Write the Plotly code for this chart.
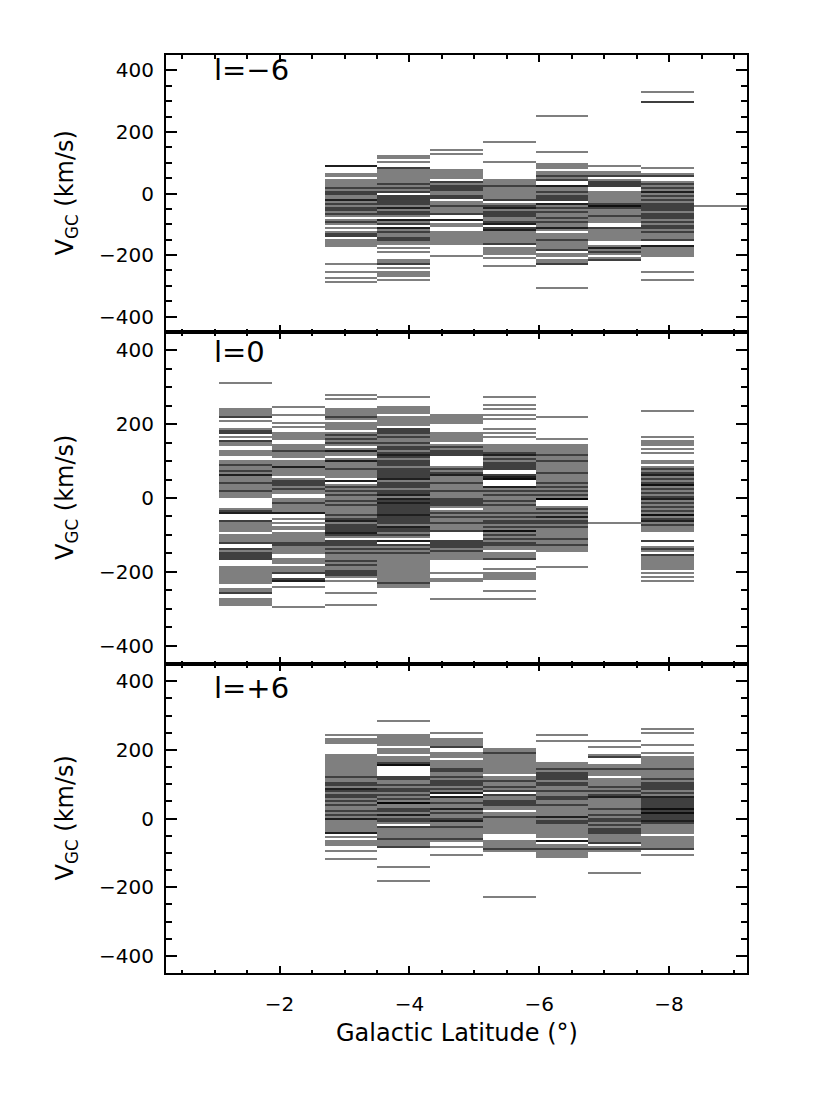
import math
import plotly.graph_objects as go

FONT = "DejaVu Sans"

# Centres of the latitude columns (deg), column 1..10
LAT_CENTERS = [-1.476, -2.289, -3.101, -3.914, -4.726, -5.539, -6.351, -7.164, -7.976, -8.789]
COL_WIDTH_DEG = 0.8125

X_TICKS = [-2, -4, -6, -8]
Y_TICKS = [-400, -200, 0, 200, 400]

# ---------------- l = -6 panel (velocities, km/s) ----------------
LM6_C3 = [87, 87, 88, 62, 54, 43, 35, 30, 24, 18, 12, 6, 0, -6, -12, -18, -24, -30, -36, -42, -48, -54, -60, -66, -71,
          20, 8, -3, -20, -33, -45, -52, -64, -86, -92, -92, -99, -111, -123, -129, -129, -135, -141, -152, -158,
          -164, -168, -230, -253, -274, -285]
LM6_C4 = [125, 114, 103, 82, 80, 76, 70, 66, 60, 52, 44, 35, 33, 29, 23, 20, 17, 11, 8, 5, -6, -9, -12, -15, -18, -24,
          -27, -30, -33, -36, -42, -45, -45, -48, -54, -60, -62, -65, -66, -71, -83, -86, -89, -95, -97, -100, -111,
          -111, -111, -118, -123, -124, -130, -136, -142, -145, -148, -154, -160, -166, -179, -187, -214, -220, -226,
          -230, -245, -252, -259, -266, -279]
LM6_C5 = [143, 130, 76, 70, 64, 58, 52, 38, 35, 32, 26, 22, 20, 16, 11, 10, 5, -1, -7, -10, -13, -16, -30, -36, -40,
          -43, -49, -55, -61, -67, -69, -83, -88, -89, -97, -108, -128, -134, -139, -145, -151, -157, -161, -205]
LM6_C6 = [168, 100, 43, 37, 31, 25, 22, 16, 10, 4, -2, -8, -14, -20, -22, -33, -38, -40, -44, -49, -49, -54, -60, -60,
          -65, -66, -72, -75, -78, -84, -90, -90, -96, -100, -102, -109, -115, -120, -120, -120, -125, -131, -137,
          -143, -149, -155, -161, -167, -174, -185, -191, -196, -207, -236]
LM6_C7 = [255, 136, 96, 90, 85, 71, 65, 59, 56, 53, 47, 43, 22, 22, 22, 16, 10, 5, 4, -2, -5, -8, -14, -15, -20, -22,
          -33, -33, -33, -43, -49, -50, -55, -61, -62, -67, -73, -79, -80, -85, -91, -95, -97, -103, -109, -110, -115,
          -120, -130, -136, -142, -148, -154, -160, -166, -172, -178, -185, -185, -196, -202, -215, -221, -227, -230,
          -304]
LM6_C8 = [87, 71, 65, 59, 54, 43, 37, 35, 31, 28, 25, 22, 5, -1, -7, -13, -19, -25, -31, -33, -38, -38, -38, -43, -49,
          -50, -55, -61, -67, -70, -73, -79, -85, -92, -109, -115, -121, -127, -133, -139, -145, -152, -168, -174,
          -175, -180, -186, -190, -192, -196, -207, -213, -217]
LM6_C9 = [329, 296, 296, 82, 65, 59, 54, 38, 32, 30, 26, 20, 18, 14, 8, 5, 2, -4, -8, -10, -16, -20, -22, -28, -32,
          -34, -38, -40, -44, -46, -52, -55, -58, -64, -67, -70, -76, -79, -82, -88, -90, -94, -100, -103, -106, -112,
          -115, -118, -124, -125, -130, -136, -142, -148, -152, -168, -170, -172, -174, -185, -191, -197, -201, -253,
          -279]
LM6_C10 = [-43]

# ---------------- l = 0 panel ----------------
L0_C1 = [314, 242, 237, 232, 227, 222, 219, 210, 187, 182, 182, 177, 174, 167, 157, 152, 147, 144, 128, 123, 119, 100,
         94, 90, 88, 85, 80, 75, 72, 70, 65, 62, 60, 58, 49, 44, 40, 39, 34, 29, 24, 20, 19, 14, 9, 4, -28, -33, -33,
         -38, -40, -42, -60, -65, -70, -75, -80, -85, -87, -100, -105, -110, -115, -120, -123, -137, -140, -142, -147,
         -150, -152, -157, -160, -162, -165, -168, -186, -195, -200, -205, -210, -214, -221, -226, -232, -245, -250,
         -255, -259, -272, -279, -284, -288]
L0_C2 = [248, 225, 203, 194, 176, 171, 166, 162, 141, 136, 131, 130, 126, 121, 116, 112, 99, 94, 90, 83, 83, 83, 76,
         71, 66, 62, 53, 48, 45, 43, 38, 35, 33, 28, 25, 23, 18, 13, -1, -6, -11, -16, -21, -26, -31, -37, -42, -42,
         -42, -55, -69, -80, -85, -96, -101, -106, -110, -116, -120, -121, -126, -130, -131, -137, -143, -150, -166,
         -172, -177, -186, -191, -196, -201, -204, -218, -220, -223, -225, -227, -241, -293]
L0_C3 = [281, 266, 242, 237, 232, 227, 222, 217, 212, 201, 196, 191, 185, 174, 170, 169, 164, 160, 159, 154, 150, 149,
         144, 135, 130, 130, 125, 122, 119, 108, 103, 100, 98, 93, 88, 83, 81, 76, 71, 66, 61, 58, 44, 44, 44, 35, 30,
         30, 25, 20, 20, 15, 10, 10, 4, -5, -10, -10, -15, -20, -20, -25, -30, -33, -40, -45, -45, -50, -55, -55, -60,
         -65, -65, -70, -75, -75, -80, -80, -85, -85, -90, -90, -95, -95, -95, -100, -100, -105, -114, -119, -120,
         -124, -129, -130, -134, -139, -140, -144, -149, -150, -154, -159, -166, -170, -171, -176, -180, -181, -186,
         -191, -196, -200, -201, -206, -210, -211, -216, -223, -257, -290]
L0_C4 = [275, 248, 239, 234, 228, 221, 212, 207, 202, 198, 189, 185, 184, 179, 176, 174, 169, 166, 164, 159, 154, 150,
         149, 144, 140, 139, 134, 131, 129, 124, 121, 119, 115, 114, 110, 109, 104, 100, 99, 95, 94, 90, 89, 84, 80,
         79, 75, 74, 70, 69, 64, 60, 59, 55, 54, 50, 49, 44, 42, 39, 35, 34, 31, 29, 24, 21, 19, 15, 14, 10, 10, 9, 4,
         0, -1, -5, -6, -10, -11, -15, -16, -20, -21, -25, -26, -28, -31, -35, -36, -38, -41, -45, -46, -48, -50, -51,
         -56, -58, -61, -65, -66, -68, -71, -76, -78, -81, -85, -86, -88, -91, -96, -98, -101, -105, -118, -118, -118,
         -128, -130, -133, -138, -140, -143, -148, -150, -153, -159, -168, -173, -178, -183, -188, -193, -198, -203,
         -208, -214, -218, -223, -228, -233, -238, -241]
L0_C5 = [223, 218, 213, 208, 204, 176, 171, 166, 161, 157, 144, 140, 139, 134, 130, 129, 124, 120, 119, 117, 85, 80,
         80, 75, 70, 70, 65, 62, 60, 58, 49, 44, 40, 39, 34, 29, 24, 20, 19, 14, 9, 4, 0, -1, -6, -10, -11, -16, -20,
         -21, -24, -33, -38, -43, -48, -50, -53, -58, -63, -68, -70, -73, -78, -83, -88, -91, -114, -119, -120, -124,
         -129, -130, -134, -135, -139, -141, -146, -151, -156, -161, -164, -205, -218, -227, -275]
L0_C6 = [275, 252, 243, 225, 212, 187, 176, 165, 144, 139, 134, 129, 124, 121, 117, 117, 115, 112, 107, 105, 102, 97,
         95, 92, 87, 85, 82, 80, 76, 62, 62, 58, 57, 57, 52, 52, 49, 49, 31, 31, 31, 22, 20, 17, 12, 10, 7, 4, -5, -10,
         -10, -15, -20, -20, -25, -28, -37, -40, -42, -47, -50, -52, -57, -60, -62, -67, -70, -72, -77, -80, -82, -87,
         -91, -91, -91, -96, -100, -101, -106, -110, -111, -116, -120, -121, -126, -130, -131, -137, -150, -155, -160,
         -165, -168, -191, -205, -210, -215, -221, -254, -274]
L0_C7 = [221, 162, 144, 139, 134, 129, 124, 119, 114, 109, 104, 100, 99, 94, 89, 84, 79, 74, 70, 69, 64, 58, 49, 44,
         40, 39, 34, 30, 29, 24, 20, 19, 14, 10, 9, 4, 0, -1, -5, -5, -5, -24, -29, -30, -34, -39, -40, -44, -49, -50,
         -54, -59, -60, -64, -69, -70, -74, -79, -80, -84, -87, -96, -101, -106, -110, -111, -116, -121, -126, -130,
         -131, -136, -141, -188]
L0_C8 = [-66]
L0_C9 = [234, 168, 157, 151, 144, 135, 121, 101, 94, 85, 80, 80, 75, 70, 70, 65, 60, 60, 55, 50, 50, 45, 40, 40, 35,
         33, 33, 33, 30, 25, 25, 20, 15, 15, 10, 5, 5, 0, -5, -5, -10, -15, -15, -20, -25, -25, -30, -35, -35, -40,
         -44, -44, -45, -45, -50, -55, -55, -60, -65, -65, -70, -75, -75, -80, -85, -87, -114, -114, -132, -137, -137,
         -141, -152, -156, -159, -168, -173, -178, -183, -188, -195, -206, -215, -227]

# ---------------- l = +6 panel ----------------
L6_C3 = [242, 230, 225, 218, 186, 177, 172, 166, 161, 155, 150, 144, 139, 133, 128, 122, 120, 117, 111, 106, 105, 100,
         95, 89, 84, 84, 84, 80, 78, 73, 70, 67, 62, 60, 56, 51, 50, 45, 40, 40, 34, 29, 23, 20, 18, 12, 10, 7, 1, 0,
         -4, -10, -15, -21, -26, -32, -37, -44, -44, -44, -56, -66, -71, -76, -93, -120]
L6_C4 = [282, 242, 237, 232, 227, 222, 216, 204, 198, 191, 182, 172, 167, 162, 160, 157, 154, 154, 154, 123, 118, 115,
         113, 108, 103, 100, 98, 93, 88, 85, 83, 78, 73, 70, 68, 63, 58, 55, 53, 48, 45, 43, 43, 43, 38, 33, 30, 28,
         23, 20, 18, 13, 10, 8, 3, 0, -2, -7, -10, -13, -22, -27, -32, -37, -42, -47, -52, -57, -62, -67, -72, -77,
         -82, -85, -141, -181]
L6_C5 = [248, 230, 225, 220, 215, 210, 206, 191, 186, 182, 167, 162, 157, 152, 147, 142, 140, 137, 132, 127, 122, 120,
         117, 112, 107, 105, 102, 97, 95, 92, 87, 85, 82, 77, 75, 72, 65, 65, 65, 55, 50, 45, 45, 40, 35, 30, 30, 25,
         20, 15, 15, 10, 5, 0, 0, -5, -10, -10, -13, -17, -22, -27, -32, -37, -42, -47, -52, -57, -62, -66, -81, -108]
L6_C6 = [203, 198, 193, 188, 183, 178, 173, 168, 163, 157, 148, 143, 138, 133, 123, 113, 110, 108, 103, 98, 93, 90, 88,
         83, 78, 70, 68, 63, 58, 53, 50, 48, 43, 40, 38, 33, 26, 17, 12, 7, 2, -3, -8, -13, -17, -27, -32, -37, -42,
         -66, -71, -76, -81, -86, -91, -95, -228]
L6_C7 = [242, 228, 162, 157, 152, 147, 143, 138, 135, 133, 128, 125, 123, 118, 115, 113, 108, 105, 103, 98, 95, 94, 84,
         80, 79, 74, 69, 64, 60, 59, 54, 49, 44, 40, 39, 36, 26, 21, 16, 12, 7, 5, 2, -3, -5, -8, -13, -15, -18, -22,
         -32, -37, -42, -47, -51, -66, -66, -66, -76, -81, -86, -91, -96, -101, -105, -115]
L6_C8 = [228, 211, 186, 181, 177, 157, 152, 147, 142, 137, 132, 128, 114, 109, 104, 99, 94, 89, 84, 80, 79, 74, 70,
         70, 65, 65, 65, 55, 50, 45, 40, 36, 30, 26, 21, 16, 11, 10, 6, 1, -4, -9, -10, -14, -19, -20, -24, -29, -30,
         -34, -39, -40, -44, -49, -54, -59, -64, -69, -71, -81, -86, -91, -95, -160]
L6_C9 = [261, 248, 214, 193, 177, 172, 167, 162, 157, 152, 147, 142, 137, 132, 127, 122, 117, 114, 109, 105, 104, 99,
         95, 94, 89, 85, 84, 79, 75, 74, 69, 65, 65, 60, 55, 55, 50, 50, 45, 45, 40, 40, 35, 35, 30, 30, 25, 25, 20,
         20, 17, 17, 17, 15, 10, 10, 5, 5, 0, 0, -5, -5, -10, -15, -15, -20, -22, -32, -37, -42, -56, -61, -66, -71,
         -76, -81, -86, -90, -108]

PANEL_LABELS = ["l=\u22126", "l=0", "l=+6"]

PANEL_COLUMNS = [
    {3: LM6_C3, 4: LM6_C4, 5: LM6_C5, 6: LM6_C6, 7: LM6_C7, 8: LM6_C8, 9: LM6_C9, 10: LM6_C10},
    {1: L0_C1, 2: L0_C2, 3: L0_C3, 4: L0_C4, 5: L0_C5, 6: L0_C6, 7: L0_C7, 8: L0_C8, 9: L0_C9},
    {3: L6_C3, 4: L6_C4, 5: L6_C5, 6: L6_C6, 7: L6_C7, 8: L6_C8, 9: L6_C9},
]

# ---------------- geometry ----------------
# the page body has an 8px margin, so the figure is offset by 8px
PAGE_OFF = 8
W, H = 830 - PAGE_OFF, 1107 - PAGE_OFF
ML, MR, MT, MB = 166 - PAGE_OFF, 83, 55 - PAGE_OFF, 134
PW = W - ML - MR
PH = H - MT - MB
X_RANGE = [-0.25, -9.2]
Y_RANGE = [-450, 450]

# panel pixel boundaries in the window (top, bottom)
PANEL_PX = [(55, 332), (332, 664), (664, 973)]


def py_to_paper(py):
    return (H - MB - (py - PAGE_OFF)) / PH


def px_to_paper(px):
    return (px - PAGE_OFF - ML) / PW


LINE_PX = 2  # each star is drawn as a 2-px line on a 2-px raster, like the original device output
LINE_COLOR = "rgba(0,0,0,0.5)"


def raster_line(v, t, b):
    """Return (base, height) in km/s of the 2-px raster row that contains velocity v."""
    k = (b - t) / (Y_RANGE[1] - Y_RANGE[0])  # px per km/s
    ypx = (Y_RANGE[1] - v) * k
    n = math.floor(ypx / LINE_PX)
    v_top = Y_RANGE[1] - n * LINE_PX / k
    v_bot = Y_RANGE[1] - (n + 1) * LINE_PX / k
    return v_bot, v_top - v_bot


fig = go.Figure()
axis_names = ["3", "2", ""]  # top, middle, bottom
for i, cols in enumerate(PANEL_COLUMNS):
    suffix = axis_names[i]
    t, b = PANEL_PX[i]
    for c, vels in cols.items():
        rows = [raster_line(v, t, b) for v in vels]
        fig.add_trace(go.Bar(
            x=[LAT_CENTERS[c - 1]] * len(vels),
            base=[r[0] for r in rows],
            y=[r[1] for r in rows],
            width=COL_WIDTH_DEG,
            marker=dict(color=LINE_COLOR, line=dict(width=0)),
            xaxis="x" + suffix, yaxis="y" + suffix,
            showlegend=False, hoverinfo="skip",
        ))

tickfont = dict(family=FONT, size=20, color="black")


def xaxis_cfg(anchor, labels, match):
    d = dict(range=X_RANGE, anchor=anchor, showline=True, linecolor="black", linewidth=2, mirror="ticks",
             ticks="inside", ticklen=7, tickwidth=2, tickcolor="black", tickvals=X_TICKS,
             ticktext=["\u2212%d" % abs(v) for v in X_TICKS],
             minor=dict(ticks="inside", ticklen=3.5, dtick=0.5, tick0=0, tickwidth=2, tickcolor="black"),
             showgrid=False, zeroline=False, showticklabels=labels, tickfont=tickfont, ticklabelstandoff=12)
    if match:
        d["matches"] = "x"
    return d


def yaxis_cfg(domain, anchor):
    return dict(range=Y_RANGE, domain=domain, anchor=anchor, showline=True, linecolor="black", linewidth=2,
                mirror="ticks", ticks="inside", ticklen=11, tickwidth=2, tickcolor="black", tickvals=Y_TICKS,
                ticktext=[("\u2212%d" % abs(v)) if v < 0 else str(v) for v in Y_TICKS],
                minor=dict(ticks="inside", ticklen=6, dtick=50, tick0=0, tickwidth=2, tickcolor="black"),
                showgrid=False, zeroline=False, tickfont=tickfont, ticklabelstandoff=6)


doms = [[py_to_paper(b), py_to_paper(t)] for (t, b) in PANEL_PX]

annotations = []
for i, (t, b) in enumerate(PANEL_PX):
    annotations.append(dict(text="V<sub>GC</sub> (km/s)", xref="paper", yref="paper",
                            x=px_to_paper(66), y=py_to_paper((t + b) / 2), xanchor="center", yanchor="middle",
                            textangle=-90, showarrow=False, font=dict(family=FONT, size=24, color="black")))
label_baseline = [80, 362, 698]
for i, lab in enumerate(PANEL_LABELS):
    annotations.append(dict(text=lab, xref="paper", yref="paper", x=px_to_paper(212),
                            y=py_to_paper(label_baseline[i] - 10), xanchor="left", yanchor="middle",
                            showarrow=False, font=dict(family=FONT, size=29, color="black")))
annotations.append(dict(text="Galactic Latitude (\u00b0)", xref="paper", yref="paper", x=0.5,
                        y=py_to_paper(1033), xanchor="center", yanchor="middle", showarrow=False,
                        font=dict(family=FONT, size=24, color="black")))

fig.update_layout(
    width=W, height=H, margin=dict(l=ML, r=MR, t=MT, b=MB),
    paper_bgcolor="white", plot_bgcolor="white",
    barmode="overlay", bargap=0, bargroupgap=0,
    xaxis=xaxis_cfg("y", True, False),
    xaxis2=xaxis_cfg("y2", False, True),
    xaxis3=xaxis_cfg("y3", False, True),
    yaxis=yaxis_cfg(doms[2], "x"), yaxis2=yaxis_cfg(doms[1], "x2"), yaxis3=yaxis_cfg(doms[0], "x3"),
    annotations=annotations,
    showlegend=False,
)

fig.write_html("out.html")
